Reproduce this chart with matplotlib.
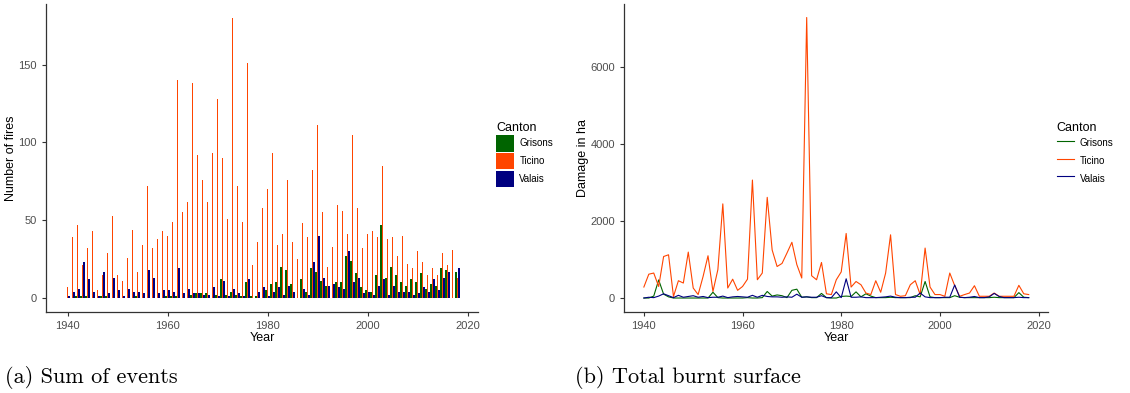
import numpy as np
import matplotlib.pyplot as plt
from matplotlib.patches import Patch
from matplotlib.lines import Line2D

years = np.arange(1940, 2019)

# number of fires per year
fires_grisons = [0, 0, 1, 1, 1, 0, 0, 1, 1, 0,
                 0, 0, 0, 0, 1, 0, 0, 0, 0, 0,
                 1, 1, 1, 0, 0, 2, 3, 3, 3, 0,
                 2, 12, 2, 4, 2, 1, 10, 1, 1, 0,
                 5, 9, 10, 20, 18, 9, 0, 12, 4, 19,
                 17, 11, 8, 0, 10, 10, 27, 24, 16, 7,
                 5, 4, 15, 47, 13, 20, 15, 10, 8, 12,
                 10, 16, 6, 9, 8, 19, 18, 0, 17]
fires_ticino = [7, 39, 47, 21, 32, 43, 5, 15, 29, 53,
                15, 11, 26, 44, 17, 34, 72, 32, 38, 43,
                40, 49, 140, 55, 62, 138, 92, 76, 62, 93,
                128, 90, 51, 180, 72, 49, 151, 21, 36, 58,
                70, 93, 34, 41, 76, 36, 25, 48, 39, 82,
                111, 55, 20, 33, 60, 56, 41, 105, 58, 32,
                41, 43, 39, 85, 38, 39, 27, 40, 22, 19,
                30, 23, 15, 19, 15, 29, 21, 31, 13]
fires_valais = [1, 4, 6, 23, 12, 4, 1, 17, 3, 13,
                5, 1, 6, 4, 4, 3, 18, 13, 3, 5,
                5, 4, 19, 3, 6, 3, 3, 2, 2, 7,
                1, 11, 1, 6, 3, 1, 12, 0, 4, 7,
                1, 4, 7, 2, 8, 4, 0, 6, 2, 23,
                40, 13, 8, 9, 7, 6, 30, 10, 13, 3,
                4, 2, 8, 12, 2, 8, 4, 4, 4, 2,
                3, 7, 4, 12, 5, 13, 17, 0, 19]

# burnt surface in ha per year
ha_grisons = [0, 0, 50, 470, 100, 30, 0, 0, 0, 0,
              0, 0, 0, 0, 150, 10, 0, 0, 0, 0,
              0, 10, 0, 0, 10, 170, 50, 80, 60, 10,
              200, 230, 20, 30, 10, 10, 120, 10, 0, 0,
              40, 50, 40, 160, 30, 110, 50, 10, 10, 10,
              20, 10, 10, 10, 10, 60, 30, 430, 30, 10,
              10, 10, 10, 60, 20, 10, 10, 10, 10, 10,
              10, 20, 10, 10, 10, 10, 140, 20, 10]
ha_ticino = [286, 620, 650, 300, 1080, 1125, 40, 450, 390, 1195,
             260, 90, 560, 1100, 170, 740, 2450, 260, 490, 200,
             300, 490, 3070, 475, 650, 2620, 1250, 820, 900, 1170,
             1450, 870, 520, 7300, 580, 475, 925, 110, 90, 475,
             680, 1680, 285, 430, 345, 130, 90, 450, 150, 650,
             1645, 90, 45, 60, 345, 450, 90, 1300, 285, 90,
             90, 45, 650, 320, 45, 90, 130, 320, 45, 45,
             45, 130, 45, 45, 45, 45, 330, 110, 90]
ha_valais = [0, 20, 10, 50, 110, 60, 10, 70, 20, 40,
             60, 20, 40, 10, 20, 20, 50, 10, 30, 40,
             30, 20, 70, 20, 70, 40, 30, 30, 20, 30,
             20, 100, 20, 30, 20, 20, 60, 10, 10, 160,
             10, 500, 20, 20, 30, 10, 10, 10, 20, 30,
             50, 20, 10, 10, 20, 20, 130, 30, 10, 10,
             10, 20, 20, 340, 20, 10, 20, 40, 10, 10,
             30, 120, 40, 10, 10, 10, 20, 10, 10]

cantons = ['Grisons', 'Ticino', 'Valais']
colors = ['#006400', '#FF4500', '#000080']

plt.rcParams['font.family'] = ['Liberation Sans', 'DejaVu Sans']

fig = plt.figure(figsize=(11.3, 3.93), dpi=100)
ax1 = fig.add_axes([0.0407, 0.206, 0.3823, 0.7837])
ax2 = fig.add_axes([0.5522, 0.206, 0.3752, 0.7837])


def style(ax):
    for s in ['top', 'right']:
        ax.spines[s].set_visible(False)
    for s in ['left', 'bottom']:
        ax.spines[s].set_color('#333333')
        ax.spines[s].set_linewidth(0.9)
    ax.tick_params(colors='#333333', labelcolor='#4D4D4D', labelsize=8,
                   length=3, width=0.8)
    ax.set_xticks([1940, 1960, 1980, 2000, 2020])
    ax.set_xlabel('Year', fontsize=9, color='black', labelpad=1)


leg_kw = dict(title='Canton', loc='upper left', bbox_transform=fig.transFigure,
              frameon=False, fontsize=7, title_fontsize=9, handlelength=1.8,
              handleheight=2.2, handletextpad=0.6, labelspacing=0.15,
              alignment='left', borderaxespad=0, borderpad=0)

# (a) dodged bars
w = 0.3
for vals, off, c in zip([fires_grisons, fires_ticino, fires_valais], [-w, 0, w], colors):
    ax1.bar(years + off, vals, width=w, color=c, linewidth=0)
ax1.set_xlim(1935.66, 2022.06)
ax1.set_ylim(-9, 189)
ax1.set_yticks([0, 50, 100, 150])
style(ax1)
ax1.set_ylabel('Number of fires', fontsize=9, labelpad=1)
h1 = [Patch(facecolor=c, edgecolor='none') for c in colors]
ax1.legend(h1, cantons, bbox_to_anchor=(0.439, 0.69), **leg_kw)

# (b) lines
for vals, c in zip([ha_grisons, ha_ticino, ha_valais], colors):
    ax2.plot(years, vals, color=c, linewidth=0.8)
ax2.set_xlim(1935.97, 2021.9)
ax2.set_ylim(-365, 7650)
ax2.set_yticks([0, 2000, 4000, 6000])
style(ax2)
ax2.set_ylabel('Damage in ha', fontsize=9, labelpad=1)
h2 = [Line2D([0], [0], color=c, linewidth=0.8) for c in colors]
ax2.legend(h2, cantons, bbox_to_anchor=(0.935, 0.69), **leg_kw)

fig.text(0.004, 0.025, '(a) Sum of events', family='cmr10', fontsize=16)
fig.text(0.509, 0.025, '(b) Total burnt surface', family='cmr10', fontsize=16)

fig.savefig('out.png', dpi=100)
